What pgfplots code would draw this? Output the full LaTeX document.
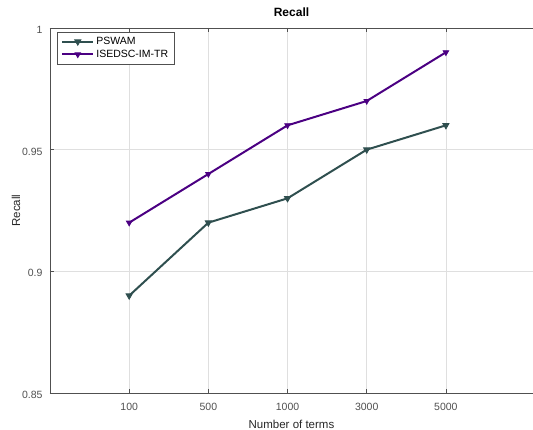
\documentclass[border=0pt]{standalone}
\usepackage{pgfplots}
\pgfplotsset{compat=1.18}
\usetikzlibrary{calc}
\usepackage{fontspec}
\setmainfont{Liberation Sans}
\definecolor{pswam}{RGB}{47,79,79}
\definecolor{isedsc}{RGB}{75,0,130}
\definecolor{axgray}{RGB}{80,80,80}
\begin{document}
\begin{tikzpicture}
\begin{axis}[
  name=ax,
  scale only axis,
  width=483bp, height=365bp,
  xmin=0, xmax=6.1,
  ymin=0.85, ymax=1,
  xtick={1,2,3,4,5},
  xticklabels={100,500,1000,3000,5000},
  ytick={0.85,0.9,0.95,1},
  yticklabels={0.85,0.9,0.95,1},
  axis x line*=box,
  axis y line*=left,
  axis line style={axgray, line width=0.8pt},
  tick style={axgray, line width=0.6pt},
  tick align=inside,
  major tick length=4bp,
  xtick pos=both,
  grid=major,
  major grid style={gray!25, line width=0.5pt},
  tick label style={font=\fontsize{10.5bp}{12bp}\selectfont, text=axgray},
  xticklabel style={anchor=center, yshift=-14bp},
  yticklabel style={anchor=east, xshift=-4bp, yshift=-2bp},
  /pgf/number format/assume math mode=true,
  xlabel={Number of terms},
  ylabel={Recall},
  label style={font=\fontsize{11.5bp}{13bp}\selectfont, text=black!85},
  xlabel style={at={(axis description cs:0.5,0)}, anchor=center, yshift=-31bp},
  ylabel style={at={(axis description cs:-0.0704,0.5)}, anchor=center},
  title={\textbf{Recall}},
  title style={font=\fontsize{12bp}{14bp}\selectfont, at={(axis description cs:0.5,1)}, anchor=center, yshift=10bp},
  legend style={at={(0.0145,0.989)}, anchor=north west, draw=axgray,
    font=\fontsize{10.5bp}{12.5bp}\selectfont, row sep=0bp,
    inner sep=3bp, inner xsep=4bp},
  legend cell align=left,
  legend image code/.code={
    \draw[#1, line width=2pt, mark repeat=2, mark phase=2]
      plot coordinates {(0cm,0cm) (0.55cm,0cm) (1.1cm,0cm)};
  },
]
\addplot[pswam, line width=2pt, mark=triangle*, mark size=3.6pt,
  mark options={rotate=180, solid, line width=0.8pt}]
  coordinates {(1,0.89) (2,0.92) (3,0.93) (4,0.95) (5,0.96)};
\addlegendentry{PSWAM}
\addplot[isedsc, line width=2pt, mark=triangle*, mark size=3.2pt,
  mark options={rotate=180, solid, line width=0.8pt}]
  coordinates {(1,0.92) (2,0.94) (3,0.96) (4,0.97) (5,0.99)};
\addlegendentry{ISEDSC-IM-TR}
\end{axis}
\pgfresetboundingbox
\path[use as bounding box] ($(ax.south west)+(-50bp,-37bp)$) rectangle ($(ax.north east)+(0,28bp)$);
\end{tikzpicture}
\end{document}
